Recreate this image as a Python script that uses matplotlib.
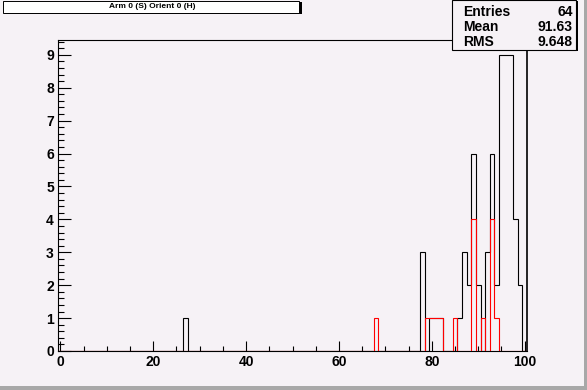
import matplotlib
matplotlib.use('Agg')
import matplotlib.pyplot as plt
import matplotlib.ticker as ticker
from matplotlib.patches import Rectangle
import numpy as np

W, H = 587, 390
bg = '#f6f2f6'

title = 'Arm 0 (S) Orient 0 (H)'
stats_names = ['Entries', 'Mean', 'RMS']
stats_values = ['64', '91.63', '9.648']

# bins are centred on integers, 101 bins from -0.5 to 100.5
black_bins = [27, 78, 80, 81, 82, 86, 87, 88, 89, 90, 92, 93, 94, 95, 96, 97, 98, 99]
black_counts = [1, 3, 1, 1, 1, 1, 3, 2, 6, 2, 3, 6, 2, 9, 9, 9, 4, 2]
red_bins = [68, 79, 80, 81, 82, 85, 89, 91, 93, 94]
red_counts = [1, 1, 1, 1, 1, 1, 4, 1, 4, 1]

edges = np.arange(-0.5, 101.5, 1.0)
h_black = np.zeros(101)
h_black[black_bins] = black_counts
h_red = np.zeros(101)
h_red[red_bins] = red_counts

plt.rcParams['font.family'] = ['Liberation Sans', 'DejaVu Sans']


def fx(x):
    return x / W


def fy(y):
    return 1 - y / H


fig = plt.figure(figsize=(W / 100, H / 100), dpi=100, facecolor=bg)
ax = fig.add_axes([fx(58), fy(351), (527 - 58) / W, (351 - 40) / H])
ax.set_facecolor(bg)

ax.stairs(h_black, edges, color='black', linewidth=0.8, zorder=3)
ax.stairs(h_red, edges, color='red', linewidth=0.8, zorder=4)

ax.set_xlim(-0.5, 100.5)
ax.set_ylim(0, 9.45)
ax.xaxis.set_major_locator(ticker.MultipleLocator(20))
ax.xaxis.set_minor_locator(ticker.MultipleLocator(5))
ax.yaxis.set_major_locator(ticker.MultipleLocator(1))
ax.yaxis.set_minor_locator(ticker.MultipleLocator(0.2))
ax.tick_params(axis='x', which='major', direction='in', length=7, width=0.8,
               labelsize=10, pad=3, top=False)
ax.tick_params(axis='x', which='minor', direction='in', length=3.5, width=0.8, top=False)
ax.tick_params(axis='y', which='major', direction='in', length=9, width=0.8,
               labelsize=10, pad=3, right=False)
ax.tick_params(axis='y', which='minor', direction='in', length=4.5, width=0.8, right=False)
for lab in ax.get_xticklabels() + ax.get_yticklabels():
    lab.set_fontweight('bold')
for s in ax.spines.values():
    s.set_linewidth(0.8)
ax.spines['right'].set_linewidth(1.2)

# title box with shadow
fig.add_artist(Rectangle((fx(4), fy(14)), 298 / W, 12 / H, transform=fig.transFigure,
                         facecolor='black', edgecolor='none'))
fig.add_artist(Rectangle((fx(3), fy(12.5)), 296 / W, 11.5 / H, transform=fig.transFigure,
                         facecolor='white', edgecolor='black', linewidth=0.7))
fig.text(fx(152), fy(6.8), title, fontsize=6, fontweight='bold', ha='center', va='center')

# stats box with shadow
fig.add_artist(Rectangle((fx(453), fy(51)), 125 / W, 50 / H, transform=fig.transFigure,
                         facecolor='black', edgecolor='none'))
fig.add_artist(Rectangle((fx(451.5), fy(49.5)), 124.5 / W, 49.5 / H, transform=fig.transFigure,
                         facecolor=bg, edgecolor='black', linewidth=0.8))
for i, (name, val) in enumerate(zip(stats_names, stats_values)):
    yy = 12 + i * 15
    fig.text(fx(463), fy(yy), name, fontsize=10, fontweight='bold', ha='left', va='center')
    fig.text(fx(573), fy(yy), val, fontsize=10, fontweight='bold', ha='right', va='center')

# canvas bevel
fig.add_artist(Rectangle((fx(584), 0), 3 / W, 1, transform=fig.transFigure,
                         facecolor='#a8a8a8', edgecolor='none'))
fig.add_artist(Rectangle((0, 0), 1, 4 / H, transform=fig.transFigure,
                         facecolor='#a8a8a8', edgecolor='none'))

fig.savefig('out.png', dpi=100, facecolor=bg)
